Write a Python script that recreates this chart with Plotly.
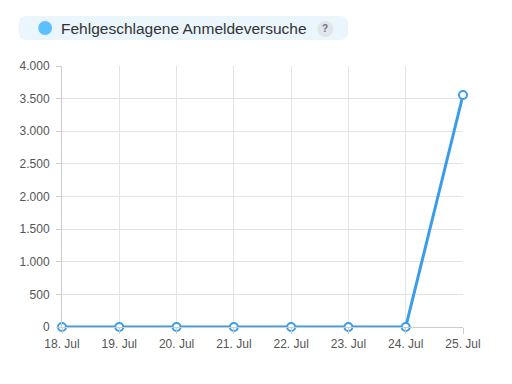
import plotly.graph_objects as go

dates = ["18. Jul", "19. Jul", "20. Jul", "21. Jul", "22. Jul", "23. Jul", "24. Jul", "25. Jul"]
failed_logins = [0, 0, 0, 0, 0, 0, 0, 3555]
y_ticks = [0, 500, 1000, 1500, 2000, 2500, 3000, 3500, 4000]
series_name = "Fehlgeschlagene Anmeldeversuche"

# page has an 8px body margin; figure placed at (8,8)
OFF = 8
W, H = 512 - 2 * OFF, 384 - 2 * OFF
PL, PR, PT, PB = 58, 463, 66, 327  # plot area in page pixels
L, T = PL - OFF, PT - OFF
R = W - (PR - OFF)
B = H - (PB - OFF)
pw, ph = PR - PL, PB - PT

def px(x):
    return (x - PL) / pw

def py(y):
    return (PB - y) / ph

fig = go.Figure()
fig.add_trace(go.Scatter(
    x=list(range(len(dates))), y=failed_logins, mode="lines+markers",
    line=dict(color="#3a9de8", width=3),
    marker=dict(size=8, color="white", line=dict(color="#3a9de8", width=2)),
    cliponaxis=False, showlegend=False, name=series_name,
))

# custom legend box (rounded)
x0, x1, y0, y1, r = 14, 347, 16, 40, 9
def P(x, y):
    return f"{px(x):.5f},{py(y):.5f}"
path = (f"M {P(x0+r,y0)} L {P(x1-r,y0)} Q {P(x1,y0)} {P(x1,y0+r)} L {P(x1,y1-r)} "
        f"Q {P(x1,y1)} {P(x1-r,y1)} L {P(x0+r,y1)} Q {P(x0,y1)} {P(x0,y1-r)} "
        f"L {P(x0,y0+r)} Q {P(x0,y0)} {P(x0+r,y0)} Z")
shapes = [
    dict(type="path", xref="paper", yref="paper", path=path,
         fillcolor="#eaf5fc", line=dict(width=0), layer="above"),
    dict(type="circle", xref="paper", yref="paper",
         x0=px(34), x1=px(48), y0=py(35), y1=py(21),
         fillcolor="#5cbfff", line=dict(width=0), layer="above"),
    dict(type="circle", xref="paper", yref="paper",
         x0=px(316), x1=px(332), y0=py(37), y1=py(21),
         fillcolor="#e1e5ea", line=dict(width=0), layer="above"),
]
annotations = [
    dict(xref="paper", yref="paper", x=px(55), y=py(28), xanchor="left", yanchor="middle",
         text=series_name, showarrow=False,
         font=dict(family="Liberation Sans, Arial, sans-serif", size=15.5, color="#333333")),
    dict(xref="paper", yref="paper", x=px(324), y=py(29), xanchor="center", yanchor="middle",
         text="<b>?</b>", showarrow=False,
         font=dict(family="Liberation Sans, Arial, sans-serif", size=10, color="#6b7280")),
]

fig.update_layout(
    width=W, height=H, margin=dict(l=L, r=R, t=T, b=B, pad=0),
    paper_bgcolor="white", plot_bgcolor="white",
    separators=",.",
    shapes=shapes, annotations=annotations,
    font=dict(family="Liberation Sans, Arial, sans-serif", size=12, color="#555555"),
    xaxis=dict(
        range=[0, len(dates) - 1], tickmode="array",
        tickvals=list(range(len(dates))), ticktext=dates,
        showgrid=True, gridcolor="#e3e3e3", gridwidth=1,
        showline=True, linecolor="#cccccc", linewidth=1,
        ticks="outside", ticklen=6, tickcolor="#cccccc",
        zeroline=False, fixedrange=True,
    ),
    yaxis=dict(
        range=[0, 4000], tickmode="array", tickvals=y_ticks,
        tickformat=",d",
        showgrid=True, gridcolor="#e3e3e3", gridwidth=1,
        showline=True, linecolor="#cccccc", linewidth=1,
        ticks="outside", ticklen=5, tickcolor="#cccccc",
        zeroline=False, ticklabelstandoff=4,
    ),
)

fig.write_html("out.html")
